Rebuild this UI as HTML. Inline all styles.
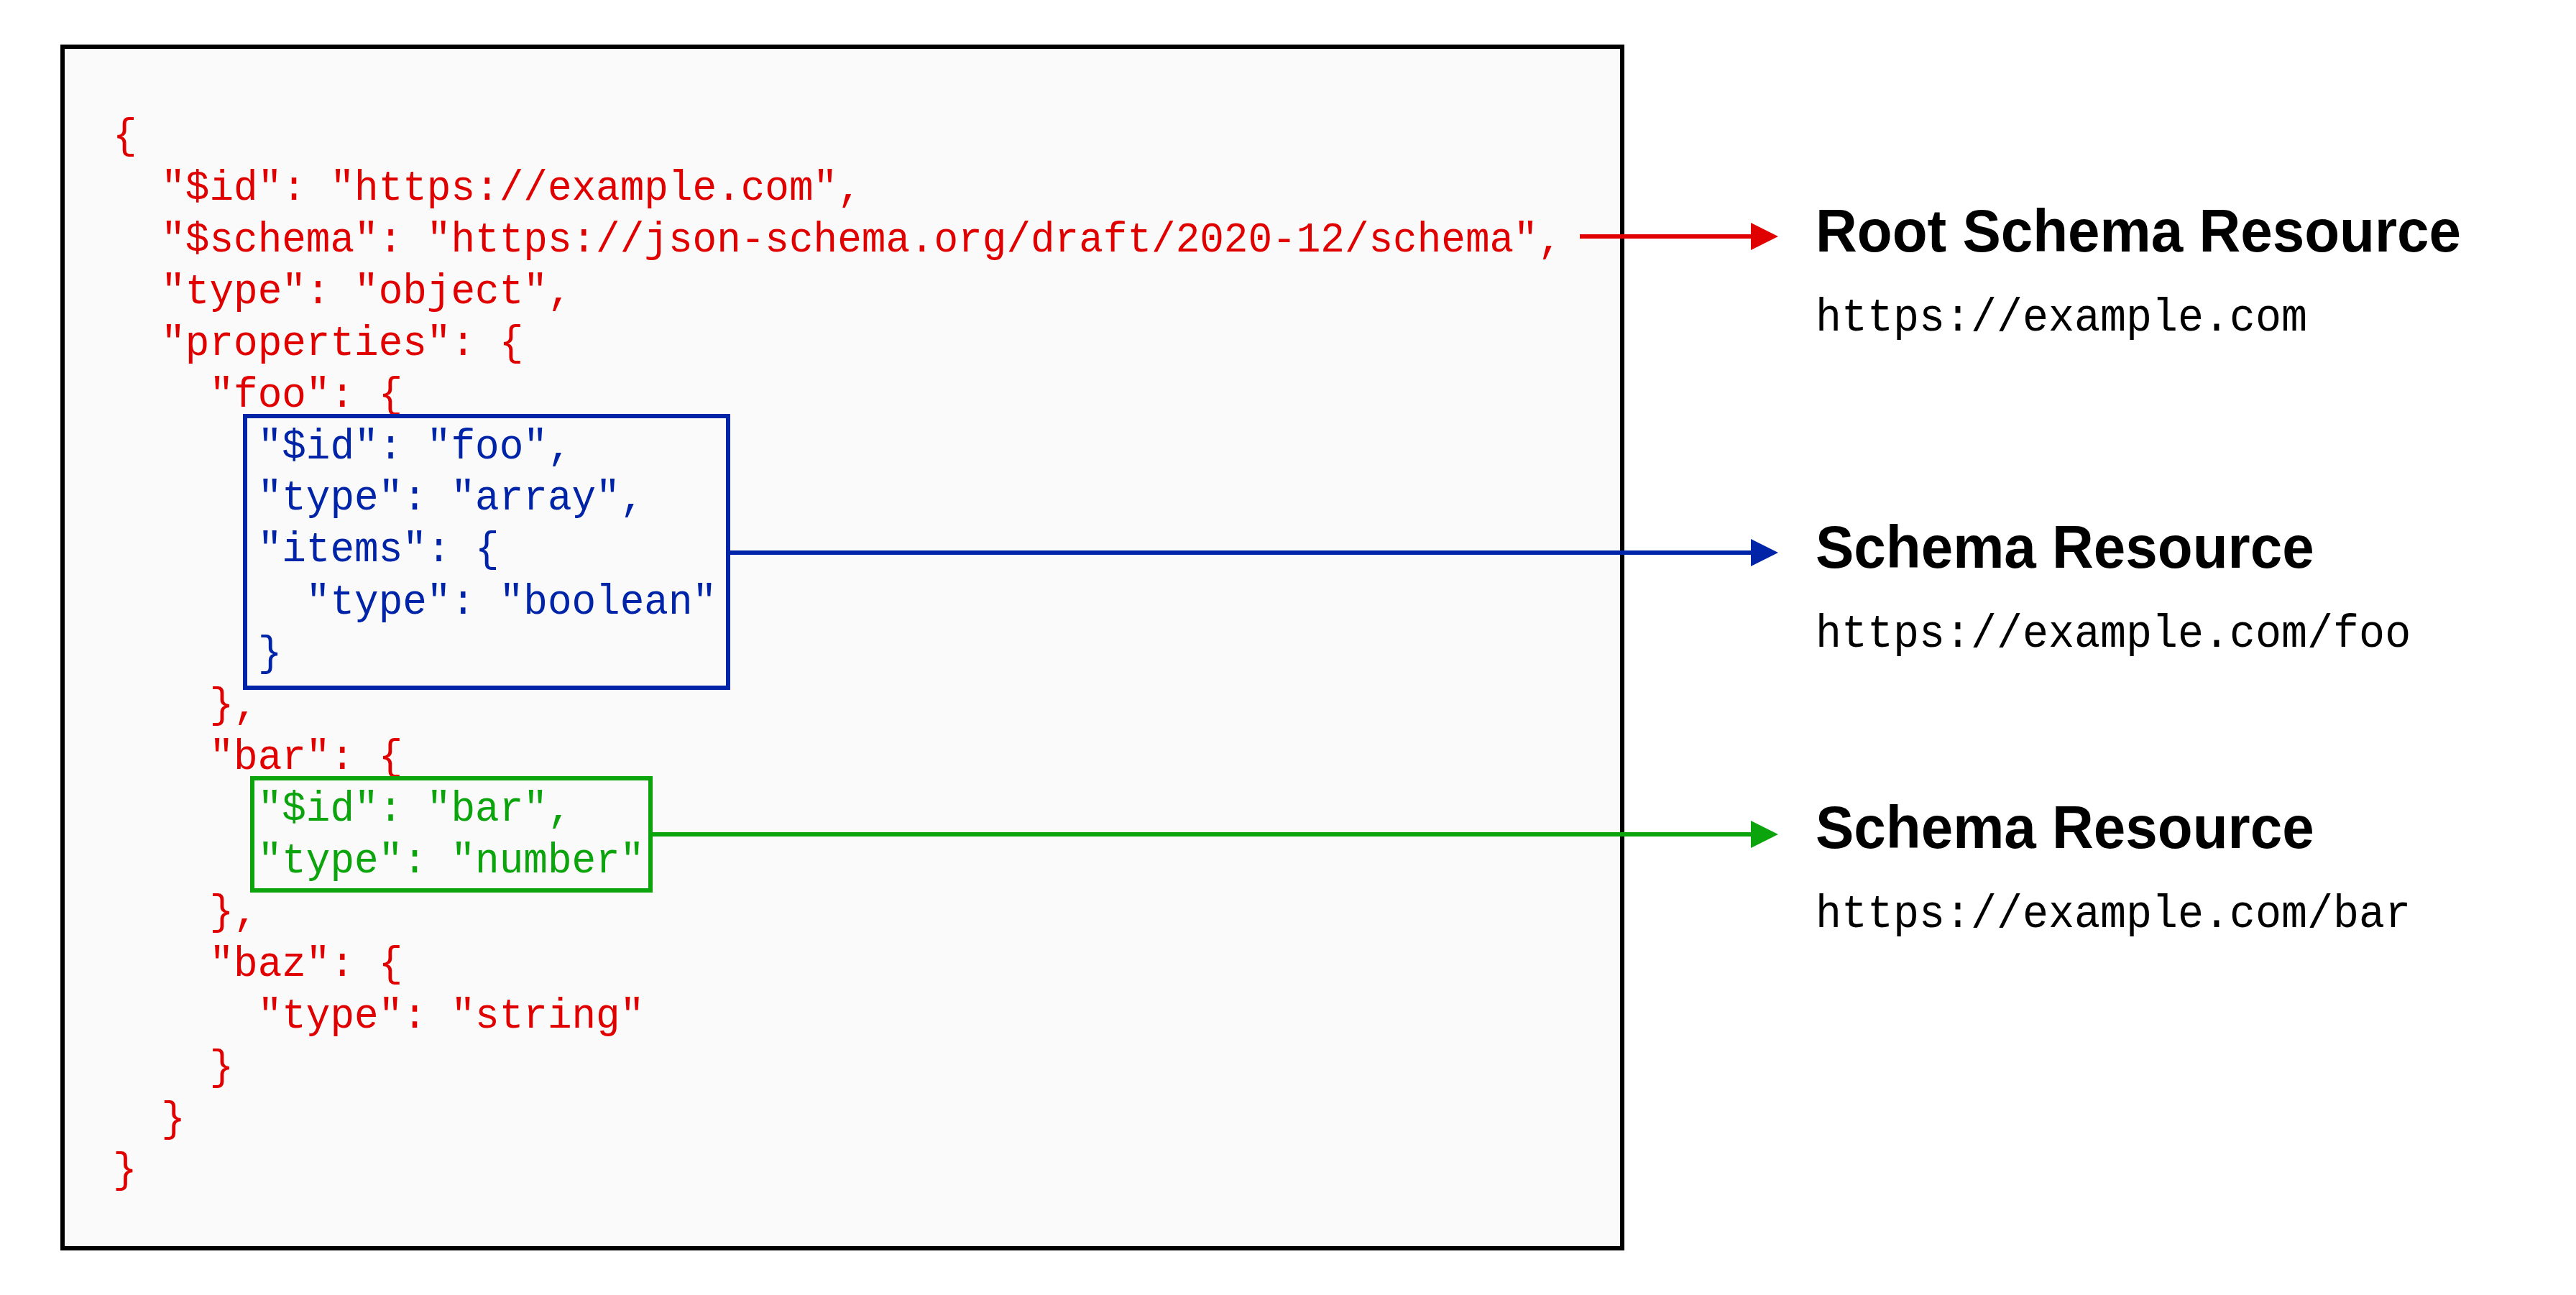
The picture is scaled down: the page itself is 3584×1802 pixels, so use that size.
<!DOCTYPE html>
<html><head><meta charset="utf-8">
<style>
html,body{margin:0;padding:0;}
body{width:3584px;height:1802px;background:#ffffff;position:relative;overflow:hidden;}
.frame{position:absolute;left:84px;top:62px;width:2164px;height:1666px;border:6px solid #000;background:#fafafa;}
pre{margin:0;position:absolute;left:157px;top:155px;font-family:"Liberation Mono",monospace;font-size:56px;line-height:calc(72px / 1.06);color:#e00000;white-space:pre;transform:scaleY(1.06);transform-origin:0 0;}
.b{color:#0024a8}
.g{color:#0ca40c}
.rbox{position:absolute;box-sizing:border-box;border:6px solid;}
.h{position:absolute;left:2526px;transform:scaleY(1.035);transform-origin:0 73px;font-family:"Liberation Sans",sans-serif;font-weight:bold;font-size:80px;line-height:92px;color:#000;white-space:pre;}
.u{position:absolute;left:2526px;transform:scaleY(1.075);transform-origin:0 52px;font-family:"Liberation Mono",monospace;font-size:60px;line-height:72px;color:#000;white-space:pre;}
svg{position:absolute;left:0;top:0;}
</style></head><body>
<div class="frame"></div>
<pre>{
  "$id": "https://example.com",
  "$schema": "https://json-schema.org/draft/2020-12/schema",
  "type": "object",
  "properties": {
    "foo": {
<span class="b">      "$id": "foo",
      "type": "array",
      "items": {
        "type": "boolean"
      }</span>
    },
    "bar": {
<span class="g">      "$id": "bar",
      "type": "number"</span>
    },
    "baz": {
      "type": "string"
    }
  }
}</pre>
<div class="rbox" style="left:338px;top:576px;width:678px;height:384px;border-color:#0024a8;"></div>
<div class="rbox" style="left:348px;top:1080px;width:560px;height:162px;border-color:#0ca40c;"></div>
<svg width="3584" height="1802" viewBox="0 0 3584 1802">
<rect x="2198" y="326" width="240" height="6" fill="#e00000"/>
<polygon points="2436,310 2474,329 2436,348" fill="#e00000"/>
<rect x="1016" y="766" width="1422" height="6" fill="#0024a8"/>
<polygon points="2436,750 2474,769 2436,788" fill="#0024a8"/>
<rect x="908" y="1158" width="1530" height="6" fill="#0ca40c"/>
<polygon points="2436,1142 2474,1161 2436,1180" fill="#0ca40c"/>
</svg>
<div class="h" style="top:277px">Root Schema Resource</div>
<div class="u" style="top:408px">https://example.com</div>
<div class="h" style="top:717px">Schema Resource</div>
<div class="u" style="top:848px">https://example.com/foo</div>
<div class="h" style="top:1107px">Schema Resource</div>
<div class="u" style="top:1238px">https://example.com/bar</div>
</body></html>
